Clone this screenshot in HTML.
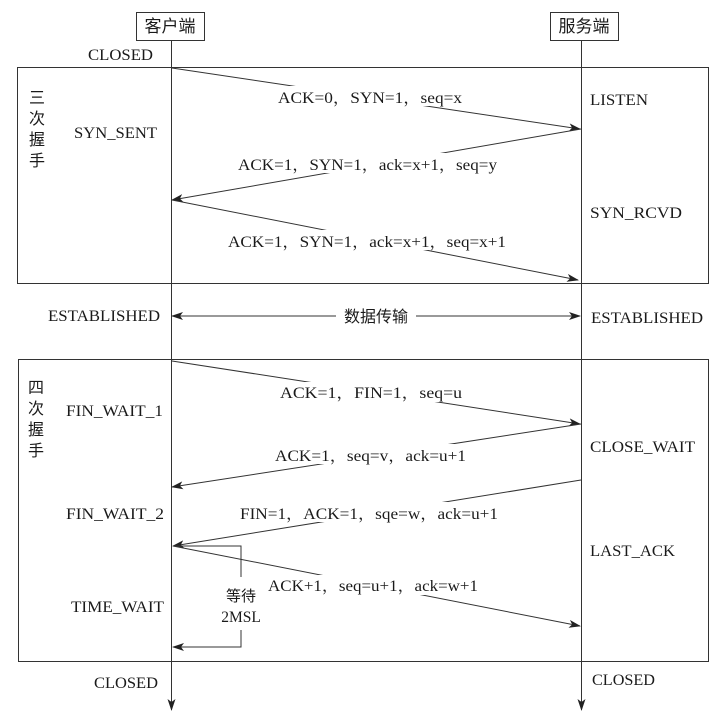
<!DOCTYPE html>
<html><head><meta charset="utf-8"><style>
html,body{margin:0;padding:0;background:#fff;}
svg{display:block;}
text{font-family:"Liberation Serif","Noto Serif CJK SC","Noto Sans CJK SC",serif;font-size:15.5px;fill:#1a1a1a;}
.cj{font-family:"Noto Sans CJK SC","WenQuanYi Zen Hei",sans-serif;font-size:16px;}
</style></head><body>
<svg width="720" height="718" viewBox="0 0 720 718" xmlns="http://www.w3.org/2000/svg">
<defs>
<marker id="a" markerWidth="12" markerHeight="8" refX="11" refY="4" orient="auto" markerUnits="userSpaceOnUse">
<path d="M0,0 L12,4 L0,8 L3,4 Z" fill="#222"/></marker>
</defs>
<g stroke="#333" stroke-width="1" fill="none">
<rect x="136.5" y="12.5" width="68" height="28"/>
<rect x="550.5" y="12.5" width="68" height="28"/>
<rect x="17.5" y="67.5" width="691" height="216"/>
<rect x="18.5" y="359.5" width="690" height="302"/>
<line x1="171.5" y1="40" x2="171.5" y2="710" marker-end="url(#a)"/>
<line x1="581.5" y1="40" x2="581.5" y2="710" marker-end="url(#a)"/>
<line x1="172" y1="68" x2="580" y2="129" marker-end="url(#a)"/>
<line x1="581" y1="129" x2="172" y2="200" marker-end="url(#a)"/>
<line x1="172" y1="200" x2="578" y2="280" marker-end="url(#a)"/>
<line x1="376" y1="316" x2="580" y2="316" marker-end="url(#a)"/>
<line x1="376" y1="316" x2="172" y2="316" marker-end="url(#a)"/>
<line x1="172" y1="361" x2="580" y2="424" marker-end="url(#a)"/>
<line x1="581" y1="424" x2="172" y2="487" marker-end="url(#a)"/>
<line x1="581" y1="480" x2="173" y2="546" marker-end="url(#a)"/>
<line x1="173" y1="546" x2="580" y2="626" marker-end="url(#a)"/>
<polyline points="173,546 241,546 241,577"/>
<polyline points="241,630 241,647 173,647" marker-end="url(#a)"/>
</g>
<g fill="#fff">
<rect x="274" y="86" width="192" height="20"/>
<rect x="234" y="153" width="270" height="20"/>
<rect x="224" y="230" width="286" height="20"/>
<rect x="336" y="305" width="80" height="22"/>
<rect x="278" y="382" width="186" height="20"/>
<rect x="272" y="444" width="198" height="20"/>
<rect x="236" y="502" width="266" height="20"/>
<rect x="264" y="575" width="218" height="20"/>
</g>
<text x="170" y="32" class="cj" style="font-size:17px" text-anchor="middle">客户端</text>
<text x="584" y="32" class="cj" style="font-size:17px" text-anchor="middle">服务端</text>
<text x="88" y="60" textLength="65" lengthAdjust="spacingAndGlyphs">CLOSED</text>
<text class="cj" x="29" y="103">三</text>
<text class="cj" x="29" y="124">次</text>
<text class="cj" x="29" y="145">握</text>
<text class="cj" x="29" y="166">手</text>
<text x="74" y="138" textLength="83" lengthAdjust="spacingAndGlyphs">SYN_SENT</text>
<text x="590" y="105" textLength="58" lengthAdjust="spacingAndGlyphs">LISTEN</text>
<text x="590" y="218" textLength="92" lengthAdjust="spacingAndGlyphs">SYN_RCVD</text>
<text x="278" y="103" textLength="184" lengthAdjust="spacingAndGlyphs">ACK=0，SYN=1，seq=x</text>
<text x="238" y="170" textLength="259" lengthAdjust="spacingAndGlyphs">ACK=1，SYN=1，ack=x+1，seq=y</text>
<text x="228" y="247" textLength="278" lengthAdjust="spacingAndGlyphs">ACK=1，SYN=1，ack=x+1，seq=x+1</text>
<text x="48" y="321" textLength="112" lengthAdjust="spacingAndGlyphs">ESTABLISHED</text>
<text x="591" y="323" textLength="112" lengthAdjust="spacingAndGlyphs">ESTABLISHED</text>
<text class="cj" x="376" y="322" text-anchor="middle">数据传输</text>
<text class="cj" x="28" y="393">四</text>
<text class="cj" x="28" y="414">次</text>
<text class="cj" x="28" y="435">握</text>
<text class="cj" x="28" y="456">手</text>
<text x="66" y="416" textLength="97" lengthAdjust="spacingAndGlyphs">FIN_WAIT_1</text>
<text x="66" y="519" textLength="98" lengthAdjust="spacingAndGlyphs">FIN_WAIT_2</text>
<text x="71" y="612" textLength="93" lengthAdjust="spacingAndGlyphs">TIME_WAIT</text>
<text x="590" y="452" textLength="105" lengthAdjust="spacingAndGlyphs">CLOSE_WAIT</text>
<text x="590" y="556" textLength="85" lengthAdjust="spacingAndGlyphs">LAST_ACK</text>
<text x="280" y="398" textLength="182" lengthAdjust="spacingAndGlyphs">ACK=1，FIN=1，seq=u</text>
<text x="275" y="461" textLength="191" lengthAdjust="spacingAndGlyphs">ACK=1，seq=v，ack=u+1</text>
<text x="240" y="519" textLength="258" lengthAdjust="spacingAndGlyphs">FIN=1，ACK=1，sqe=w，ack=u+1</text>
<text x="268" y="591" textLength="210" lengthAdjust="spacingAndGlyphs">ACK+1，seq=u+1，ack=w+1</text>
<text class="cj" x="241" y="601" text-anchor="middle" style="font-size:15px">等待</text>
<text x="241" y="622" text-anchor="middle">2MSL</text>
<text x="94" y="688" textLength="64" lengthAdjust="spacingAndGlyphs">CLOSED</text>
<text x="592" y="685" textLength="63" lengthAdjust="spacingAndGlyphs">CLOSED</text>
</svg>
</body></html>
